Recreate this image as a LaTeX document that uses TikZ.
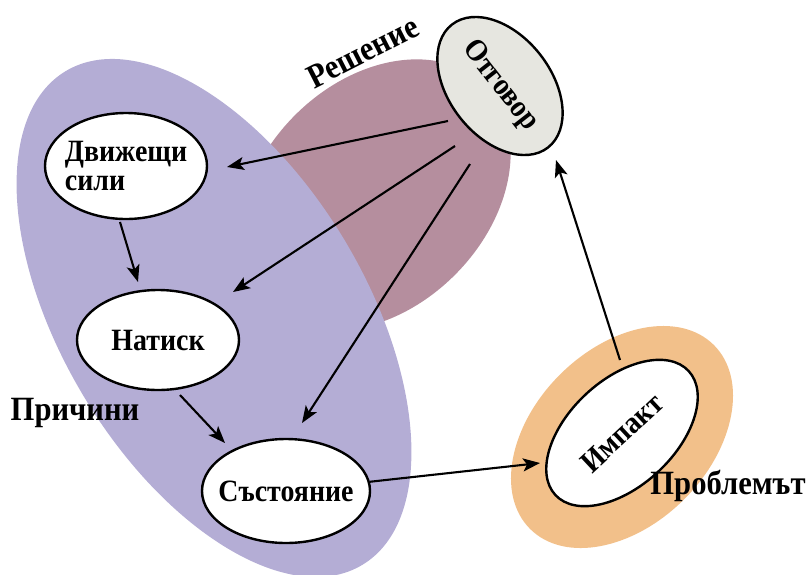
\documentclass[tikz,border=0pt]{standalone}
\usepackage{fontspec}
\setmainfont{Liberation Serif}[FakeStretch=0.9]
\usetikzlibrary{positioning,arrows.meta,shapes.geometric}
\definecolor{lavender}{RGB}{180,173,213}
\definecolor{mauve}{RGB}{181,142,158}
\definecolor{apricot}{RGB}{242,192,138}
\definecolor{pale}{RGB}{230,230,224}
\newcommand{\causesBlob}{(214,318) ellipse [x radius=288pt, y radius=152pt]}
\newcommand{\answerBlob}{(375,195) ellipse [x radius=155pt, y radius=113pt]}
\newcommand{\issueBlob}{(622,437) ellipse [x radius=130pt, y radius=88pt]}

\begin{document}
\begin{tikzpicture}[x=1pt,y=-1pt,
    state/.style={ellipse,draw,line width=2.4pt,fill=white,inner sep=0pt,
      font=\fontsize{31}{29}\selectfont\bfseries},
    tag/.style={font=\fontsize{34}{35}\selectfont\bfseries},
    flow/.style={line width=2.1pt,-{Stealth[length=17pt,width=13pt,inset=4pt]}}]
  \useasboundingbox (0,0) rectangle (807,574);
  % coloured regions behind the states
  \fill[mauve,rotate around={45:(375,195)}] \answerBlob;
  \fill[lavender,rotate around={-59:(214,318)}] \causesBlob;
  \fill[apricot,rotate around={45:(622,437)}] \issueBlob;
  % states
  \node[state,inner xsep=-6pt,minimum width=162pt,minimum height=106pt,align=left] (dviz) at (126,166) {Движещи\\сили};
  \node[state,minimum width=162pt,minimum height=100pt] (natisk) at (158,340) {Натиск};
  \node[state,inner xsep=-10pt,minimum width=168pt,minimum height=104pt] (sast) at (286,491) {Състояние};
  \node[state,fill=pale,rotate=-52,minimum width=156pt,minimum height=102pt] (otg) at (500,86) {Отговор};
  \node[state,rotate=43,minimum width=182pt,minimum height=106pt] (impakt) at (622,433) {Импакт};
  % region names
  \node[tag,rotate=27] (resh) at (363,52) {Решение};
  \node[tag] (prich) at (75,413) {Причини};
  \node[tag] (probl) at (728,486) {Проблемът};
  % links
  \draw[flow] ([shift={(-52,35)}]otg.center) -- ([shift={(101,1)}]dviz.center);
  \draw[flow] ([shift={(-45,60)}]otg.center) -- ([shift={(75,-48)}]natisk.center);
  \draw[flow] ([shift={(-30,78)}]otg.center) -- ([shift={(16,-68)}]sast.center);
  \draw[flow] ([shift={(-6,56)}]dviz.center) -- ([shift={(-20,-58)}]natisk.center);
  \draw[flow] ([shift={(22,55)}]natisk.center) -- ([shift={(-61,-48)}]sast.center);
  \draw[flow] (sast) -- ([shift={(-82,30)}]impakt.center);
  \draw[flow] ([shift={(-2,-73)}]impakt.center) -- ([shift={(56,74)}]otg.center);
\end{tikzpicture}
\end{document}
